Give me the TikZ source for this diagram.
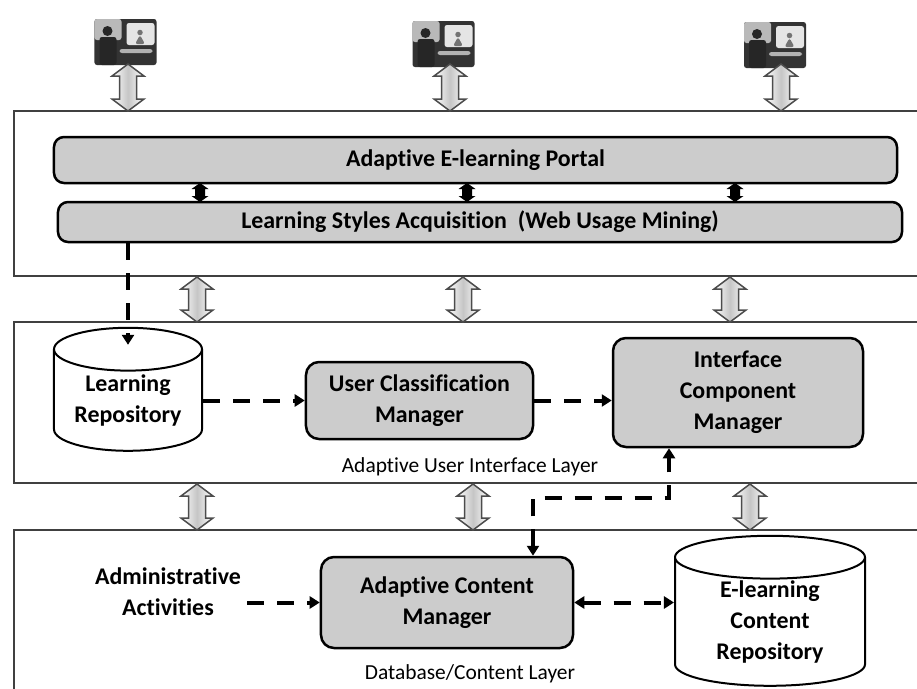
\documentclass[tikz,border=0pt]{standalone}
\usepackage{fontspec}
\setmainfont{Carlito}[Ligatures=NoCommon]
\usetikzlibrary{arrows.meta,shapes.geometric}

\begin{document}
\begin{tikzpicture}[x=0.2mm,y=-0.2mm,
  tier/.style={draw=black!75,line width=0.3mm,fill=white,inner sep=0pt},
  bar/.style={draw,line width=0.5mm,rounded corners=2mm,fill=gray!40,inner sep=0pt,font=\fontsize{13.6}{17.6}\selectfont\bfseries},
  manager/.style={draw,line width=0.5mm,rounded corners=2.6mm,fill=gray!40,inner sep=0pt,align=center,font=\fontsize{13.6}{17.6}\selectfont\bfseries},
  store/.style={cylinder,shape border rotate=90,shape aspect=0.4,draw,line width=0.4mm,fill=white,inner sep=0pt,align=center,font=\fontsize{13.6}{17.6}\selectfont\bfseries},
  caption/.style={font=\fontsize{12.2}{14}\selectfont},
  tip/.style={-{Triangle[length=2mm,width=2.4mm]}},
  twoway/.style={{Triangle[length=2mm,width=2.4mm]}-{Triangle[length=2mm,width=2.4mm]}},
  flow/.style={line width=0.8mm,dash pattern=on 3.4mm off 2.6mm},
  hollowarrow/.style={draw=black!70,line width=0.3mm,left color=white,right color=white,middle color=gray!45},
  blackarrow/.style={fill=black},
  pc/.style={rectangle,fill=black!80,rounded corners=0.5mm,minimum width=12.4mm,minimum height=9.2mm,inner sep=0pt,
    path picture={
      \fill[gray!55] ([shift={(-6.2mm,4.6mm)}]path picture bounding box.center) rectangle ++(5.4mm,-4.2mm);
      \fill[black!85] ([shift={(-3.6mm,2.2mm)}]path picture bounding box.center) circle (1mm);
      \fill[black!85] ([shift={(-5.2mm,-4.6mm)}]path picture bounding box.center) rectangle ++(3.4mm,5.6mm);
      \fill[gray!20] ([shift={(0.2mm,3.8mm)}]path picture bounding box.center) rectangle ++(5.6mm,-4.4mm);
      \fill[black!55] ([shift={(2.9mm,1.9mm)}]path picture bounding box.center) circle (0.55mm);
      \fill[black!55] ([shift={(1.9mm,-0.4mm)}]path picture bounding box.center) -- ++(1mm,1.8mm) -- ++(1mm,-1.8mm) -- cycle;
      \fill[gray!60] ([shift={(-1.2mm,-1.4mm)}]path picture bounding box.center) rectangle ++(6.6mm,-0.8mm);
    }}]
\clip (0,0) rectangle (917,689);
\fill[white] (0,0) rectangle (917,689);

% three layers
\node[tier,minimum width=184.2mm,minimum height=33mm] (weblayer) at (474.5,193.5) {};
\node[tier,minimum width=184.2mm,minimum height=32.2mm] (uilayer) at (474.5,402.5) {};
\node[tier,minimum width=184.2mm,minimum height=36mm] (dblayer) at (474.5,620) {};

% learners
\node[pc] (learnerA) at (125.5,42) {};
\node[pc] (learnerB) at (443.5,44) {};
\node[pc] (learnerC) at (775,45) {};

\node[bar,minimum width=168.6mm,minimum height=9.2mm] (portal) at (475.5,160) {Adaptive E-learning Portal};
\node[bar,minimum width=168.8mm,minimum height=8mm] (lsa) at (480,222) {Learning Styles Acquisition~~(Web Usage Mining)};

\node[store,minimum width=29.6mm,minimum height=24.6mm] (lrepo) at (128,400.5) {Learning\\Repository};
\node[manager,minimum width=45.4mm,minimum height=15.4mm] (ucm) at (419.5,400.5) {User Classification\\Manager};
\node[manager,minimum width=50mm,minimum height=21.8mm] (icm) at (738,392.5) {Interface\\Component\\Manager};
\node[caption] (uicap) at (470,467) {Adaptive User Interface Layer};

\node[align=center,font=\fontsize{13.6}{17.6}\selectfont\bfseries] (admin) at (168,592) {Administrative\\Activities};
\node[manager,minimum width=50.4mm,minimum height=18.2mm] (acm) at (447,602.5) {Adaptive Content\\Manager};
\node[store,minimum width=38mm,minimum height=30mm] (ecrepo) at (770,622) {E-learning\\Content\\Repository};
\node[caption] (dbcap) at (470,674) {Database/Content Layer};

% block arrows between layers
\foreach \x/\ya/\yb in {128/64/111,450/64/111,781/64/111,197/277/322,463/277/322,730/277/322,197/484/530,473/484/530,750/484/530}
  \draw[hollowarrow] (\x-8.5,\ya+12) -- (\x-16,\ya+12) -- (\x,\ya) -- (\x+16,\ya+12) -- (\x+8.5,\ya+12)
    -- (\x+8.5,\yb-12) -- (\x+16,\yb-12) -- (\x,\yb) -- (\x-16,\yb-12) -- (\x-8.5,\yb-12) -- cycle;
\foreach \x in {200,467,735}
  \fill[blackarrow] (\x-5,189) -- (\x-8.5,189) -- (\x,183) -- (\x+8.5,189) -- (\x+5,189)
    -- (\x+5,196) -- (\x+8.5,196) -- (\x,202) -- (\x-8.5,196) -- (\x-5,196) -- cycle;

% dashed flows
\coordinate (jogL) at (533,498);
\coordinate (jogR) at (669,498);
\draw[flow,tip] (lsa.south -| lrepo.north) -- ([yshift=-3.6mm]lrepo.north);
\draw[flow,tip] (ucm.west -| lrepo.east) -- (ucm.west);
\draw[flow,tip] (ucm.east) -- (ucm.east -| icm.west);
\draw[flow,twoway] (acm.north -| jogL) -- (jogL) -- (jogR) -- (icm.south -| jogR);
\draw[flow,tip] (admin.east |- acm.west) -- (acm.west);
\draw[flow,twoway] (acm.east) -- (acm.east -| ecrepo.west);

\end{tikzpicture}
\end{document}
